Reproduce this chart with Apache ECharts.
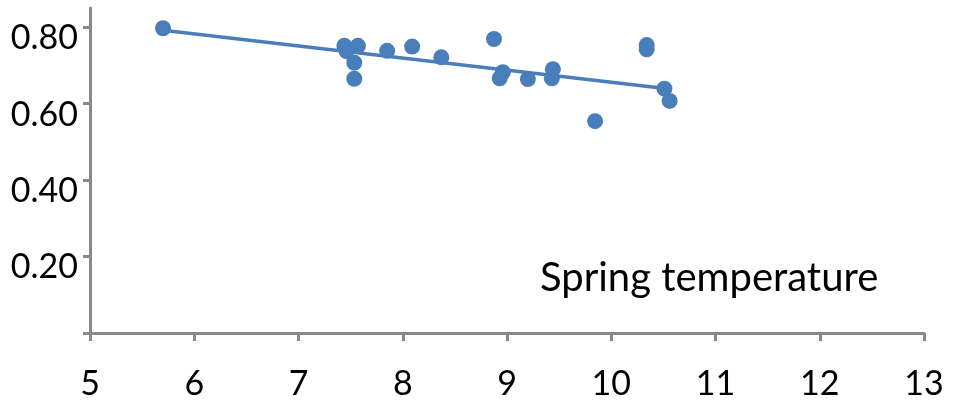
<!DOCTYPE html>
<html>
<head>
<meta charset="utf-8">
<script src="https://cdn.jsdelivr.net/npm/echarts@6/dist/echarts.min.js"></script>
<style>
  html, body { margin: 0; padding: 0; background: #fff; }
  #chart { width: 954px; height: 404px; }
</style>
</head>
<body>
<div id="chart"></div>
<script>
// Spring temperature (x) against the response value (y)
const springTemp = [5.70, 7.44, 7.46, 7.57, 7.535, 7.535, 7.85, 8.09, 8.37, 8.875, 8.93, 8.96, 9.20, 9.43, 9.44, 9.845, 10.34, 10.34, 10.51, 10.56];
const responseVal = [0.797, 0.751, 0.737, 0.751, 0.707, 0.665, 0.738, 0.749, 0.721, 0.769, 0.666, 0.682, 0.664, 0.666, 0.690, 0.554, 0.753, 0.742, 0.639, 0.607];

// Linear trend line end points
const trendX = [5.70, 10.56];
const trendY = [0.792, 0.638];

// Axis ticks
const xTicks = [5, 6, 7, 8, 9, 10, 11, 12, 13];
const yLabelValues = [0.2, 0.4, 0.6, 0.8];
const yTickValues = [0, 0.2, 0.4, 0.6, 0.8];

const panelTitle = 'Spring temperature';

const blue = '#4a7ebb';
const axisGray = '#898989';
const fontFamily = 'Lato, "Noto Sans", sans-serif';

const scatterData = springTemp.map((x, i) => [x, responseVal[i]]);
const trendData = trendX.map((x, i) => [x, trendY[i]]);

const chart = echarts.init(document.getElementById('chart'), null, { renderer: 'canvas' });

chart.setOption({
  animation: false,
  backgroundColor: '#ffffff',
  grid: { left: 90, right: 30, top: 8, bottom: 71, containLabel: false },
  xAxis: {
    type: 'value',
    min: xTicks[0],
    max: xTicks[xTicks.length - 1],
    interval: 1,
    axisLine: { show: true, lineStyle: { color: axisGray, width: 3 } },
    axisTick: { show: true, inside: false, length: 8, lineStyle: { color: axisGray, width: 3 } },
    axisLabel: {
      show: true, margin: 34, color: '#000', fontSize: 34, fontFamily: fontFamily,
      showMinLabel: true, showMaxLabel: true
    },
    splitLine: { show: false }
  },
  yAxis: {
    type: 'value',
    min: 0,
    max: 0.85,
    interval: 0.2,
    axisLine: { show: true, lineStyle: { color: axisGray, width: 3 } },
    axisTick: {
      show: true, inside: false, length: 7,
      customValues: yTickValues,
      lineStyle: { color: axisGray, width: 3 }
    },
    axisLabel: {
      show: true, margin: 12, color: '#000', fontSize: 34, fontFamily: fontFamily,
      customValues: yLabelValues,
      verticalAlign: 'top',
      lineHeight: 34,
      padding: [-6, 0, 0, 0],
      formatter: v => v.toFixed(2)
    },
    splitLine: { show: false }
  },
  graphic: [{
    type: 'text',
    left: 540,
    top: 258,
    style: { text: panelTitle, fill: '#000', font: '40px ' + fontFamily }
  }],
  series: [
    {
      type: 'line',
      data: trendData,
      showSymbol: false,
      symbol: 'none',
      lineStyle: { color: blue, width: 3.5 },
      z: 2
    },
    {
      type: 'scatter',
      data: scatterData,
      symbol: 'circle',
      symbolSize: 16,
      itemStyle: { color: blue, opacity: 1 },
      z: 3
    }
  ]
});
</script>
</body>
</html>
